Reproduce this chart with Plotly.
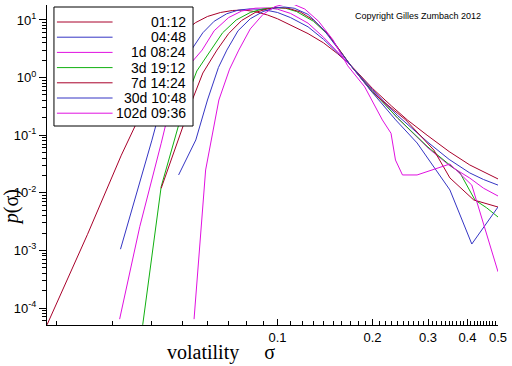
import numpy as np
import plotly.graph_objects as go

# ---------------- data ----------------
names = ["01:12", "04:48", "1d 08:24", "3d 19:12", "7d 14:24", "30d 10:48", "102d 09:36"]
colors = ["#a8002a", "#3535c4", "#e010e0", "#10b010", "#a8002a", "#3535c4", "#e010e0"]

sig_0112 = [0.0186, 0.025, 0.032, 0.037, 0.0415, 0.0454, 0.05, 0.055, 0.06, 0.066, 0.072, 0.078, 0.085,
            0.093, 0.1, 0.11, 0.125, 0.14, 0.155, 0.171, 0.2, 0.23, 0.258, 0.298, 0.35, 0.407, 0.45, 0.5]
p_0112 = [5.1e-5, 0.0019, 0.045, 0.243, 1.0, 3.0, 6.0, 9.0, 11.5, 13.5, 14.6, 14.9, 14.0,
          12.2, 10.5, 8.2, 5.8, 4.0, 2.6, 1.62, 0.65, 0.32, 0.184, 0.1, 0.052, 0.0304, 0.023, 0.0174]

sig_0448 = [0.0318, 0.036, 0.04, 0.0433, 0.048, 0.0533, 0.058, 0.063, 0.069, 0.075, 0.082, 0.09, 0.1,
            0.11, 0.125, 0.14, 0.155, 0.171, 0.2, 0.24, 0.3, 0.35, 0.407, 0.45, 0.5]
p_0448 = [0.00105, 0.011, 0.082, 0.408, 1.4, 3.0, 6.0, 9.5, 12.8, 14.8, 15.6, 15.2, 13.5,
          11.0, 7.6, 4.6, 2.7, 1.6, 0.62, 0.22, 0.075, 0.038, 0.0221, 0.017, 0.0136]

sig_1d = [0.0316, 0.0366, 0.0428, 0.0462, 0.05, 0.0577, 0.063, 0.07, 0.077, 0.085, 0.093, 0.1,
          0.11, 0.125, 0.14, 0.155, 0.171, 0.2, 0.24, 0.3, 0.35, 0.407, 0.45, 0.5]
p_1d = [6.4e-5, 0.00258, 0.0724, 0.408, 1.2, 3.0, 6.5, 11.0, 14.3, 16.0, 16.2, 15.4,
        13.0, 8.8, 5.0, 2.8, 1.6, 0.6, 0.2, 0.06, 0.03, 0.018, 0.012, 0.0088]

sig_3d = [0.0374, 0.0428, 0.0512, 0.0555, 0.0615, 0.067, 0.074, 0.082, 0.09, 0.098, 0.106, 0.115,
          0.13, 0.145, 0.171, 0.2, 0.24, 0.3, 0.35, 0.379, 0.4226, 0.46, 0.5]
p_3d = [5.1e-5, 0.0128, 0.408, 1.3, 3.0, 6.0, 10.0, 13.5, 15.6, 16.4, 16.0, 14.0,
        9.5, 5.5, 1.6, 0.58, 0.2, 0.062, 0.031, 0.0221, 0.0075, 0.0055, 0.0038]

sig_7d = [0.0428, 0.0537, 0.058, 0.0643, 0.07, 0.077, 0.085, 0.093, 0.1, 0.108, 0.118, 0.13,
          0.145, 0.171, 0.2, 0.255, 0.313, 0.352, 0.419, 0.5]
p_7d = [0.012, 0.408, 1.2, 3.0, 5.8, 9.8, 13.5, 15.6, 16.4, 16.0, 13.8, 10.0,
        5.6, 1.6, 0.55, 0.184, 0.0553, 0.0181, 0.0075, 0.00566]

sig_30d = [0.0486, 0.0551, 0.06, 0.065, 0.0691, 0.075, 0.082, 0.09, 0.098, 0.105, 0.113, 0.125,
           0.14, 0.171, 0.2, 0.237, 0.277, 0.352, 0.413, 0.5]
p_30d = [0.0204, 0.0826, 0.408, 1.5, 3.0, 6.5, 10.5, 14.0, 16.2, 16.8, 16.0, 12.5,
         6.8, 1.6, 0.55, 0.184, 0.0733, 0.0112, 0.00129, 0.00566]

sig_102d = [0.0544, 0.0592, 0.0652, 0.0705, 0.0754, 0.082, 0.09, 0.098, 0.106, 0.113, 0.122, 0.135,
            0.15, 0.167, 0.189, 0.215, 0.229, 0.2366, 0.249, 0.277, 0.352, 0.413, 0.5]
p_102d = [6.4e-5, 0.0249, 0.408, 1.4, 3.0, 7.0, 12.5, 17.0, 19.0, 18.5, 15.5, 9.5,
          4.5, 1.6, 0.69, 0.184, 0.108, 0.037, 0.0204, 0.0204, 0.0316, 0.0136, 4.26e-4]

x_tick_vals = [0.1, 0.2, 0.3, 0.4, 0.5]
x_tick_text = ["0.1", "0.2", "0.3", "0.4", "0.5"]
y_tick_vals = [1e-4, 1e-3, 1e-2, 1e-1, 1e0, 1e1]
y_tick_text = ["10<sup>-4</sup>", "10<sup>-3</sup>", "10<sup>-2</sup>", "10<sup>-1</sup>",
               "10<sup>0</sup>", "10<sup>1</sup>"]

series = [(sig_0112, p_0112), (sig_0448, p_0448), (sig_1d, p_1d), (sig_3d, p_3d),
          (sig_7d, p_7d), (sig_30d, p_30d), (sig_102d, p_102d)]

# ---------------- figure ----------------
W, H = 512, 366
ML, MR, MT, MB = 47, 11, 5, 41
PW, PH = W - ML - MR, H - MT - MB


def px(xp):
    return (xp - ML) / PW


def py(yp):
    return (H - MB - yp) / PH


fig = go.Figure()
for (s, p), name, c in zip(series, names, colors):
    fig.add_trace(go.Scatter(x=s, y=p, mode="lines", name=name,
                             line=dict(color=c, width=1), showlegend=False))

x_minor = [round(0.02 + 0.01 * i, 2) for i in range(8)] + \
          [round(0.11 + 0.01 * i, 2) for i in range(39) if round(0.11 + 0.01 * i, 2) not in (0.2, 0.3, 0.4)]
y_minor = [m * 10.0 ** e for e in range(-5, 2) for m in range(2, 10)]

tickfont = dict(family="Liberation Sans, Arial, sans-serif", size=13, color="black")
fig.update_xaxes(type="log", range=[np.log10(0.0186), np.log10(0.5)],
                 showline=True, linecolor="black", linewidth=1, showgrid=False, zeroline=False,
                 ticks="inside", ticklen=6, tickcolor="black", tickmode="array",
                 tickvals=x_tick_vals, ticktext=x_tick_text, tickfont=tickfont,
                 minor=dict(tickmode="array", tickvals=x_minor, ticks="inside", ticklen=4,
                            tickcolor="black", showgrid=False))
fig.update_yaxes(type="log", range=[-4.295, 1.26],
                 showline=True, linecolor="black", linewidth=1, showgrid=False, zeroline=False,
                 ticks="outside", ticklen=7, tickcolor="black", tickmode="array",
                 tickvals=y_tick_vals, ticktext=y_tick_text, tickfont=tickfont,
                 minor=dict(tickmode="array", tickvals=y_minor, ticks="outside", ticklen=4,
                            tickcolor="black", showgrid=False))

shapes = [dict(type="rect", xref="paper", yref="paper", x0=px(54), x1=px(194), y0=py(126), y1=py(7),
               line=dict(color="black", width=1), fillcolor="white", layer="above")]
annotations = []
for i, (name, c) in enumerate(zip(names, colors)):
    yrow = 22 + i * 15.2
    shapes.append(dict(type="line", xref="paper", yref="paper", x0=px(57), x1=px(113),
                       y0=py(yrow), y1=py(yrow), line=dict(color=c, width=1), layer="above"))
    annotations.append(dict(xref="paper", yref="paper", x=px(189), y=py(yrow), text=name,
                            showarrow=False, xanchor="right", yanchor="middle",
                            font=dict(family="Liberation Sans, Arial, sans-serif", size=14, color="black")))

annotations.append(dict(xref="paper", yref="paper", x=px(420), y=py(16), text="Copyright Gilles Zumbach 2012",
                        showarrow=False, xanchor="center", yanchor="middle",
                        font=dict(family="Liberation Sans, Arial, sans-serif", size=9, color="black")))
annotations.append(dict(xref="paper", yref="paper", x=px(222), y=py(352),
                        text="volatility\u00a0\u00a0\u00a0\u00a0\u00a0σ", showarrow=False,
                        xanchor="center", yanchor="middle",
                        font=dict(family="Liberation Serif, Times New Roman, serif", size=20, color="black")))
annotations.append(dict(xref="paper", yref="paper", x=px(11), y=py(207),
                        text="<i>p</i>(σ)", showarrow=False, textangle=-90,
                        xanchor="center", yanchor="middle",
                        font=dict(family="Liberation Serif, Times New Roman, serif", size=20, color="black")))

fig.update_layout(width=W, height=H, margin=dict(l=ML, r=MR, t=MT, b=MB),
                  paper_bgcolor="white", plot_bgcolor="white",
                  shapes=shapes, annotations=annotations, showlegend=False)

fig.write_html("out.html", config={"displayModeBar": False},
               post_script="document.body.style.margin='0px';")
